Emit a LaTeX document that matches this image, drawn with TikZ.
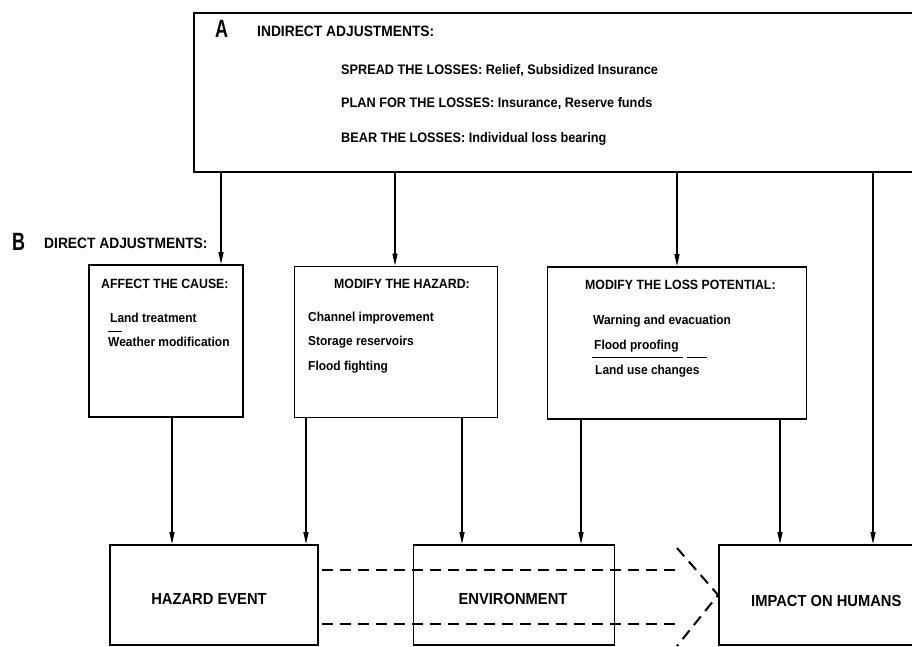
\documentclass[tikz,border=0pt]{standalone}
\usepackage{fontspec}
\setmainfont{Liberation Sans}[FakeStretch=0.92]
\newfontfamily\lettrefont{Liberation Sans}[FakeStretch=0.72]
\usetikzlibrary{arrows.meta}
\begin{document}
\begin{tikzpicture}[x=1pt,y=-1pt,
  box/.style={draw=black, line width=1.8pt, inner sep=0pt},
  arr/.style={draw=black, line width=1.4pt, -{Triangle[length=12pt,width=5pt]}},
  flow/.style={draw=black, line width=2pt, dash pattern=on 11pt off 7pt},
  head/.style={font=\bfseries\fontsize{15}{15}\selectfont, anchor=west, inner sep=0pt},
  title/.style={font=\bfseries\fontsize{13.4}{13.4}\selectfont, anchor=west, inner sep=0pt},
  item/.style={font=\bfseries\fontsize{13}{13}\selectfont, anchor=west, inner sep=0pt},
  aitem/.style={font=\bfseries\fontsize{13.8}{13.8}\selectfont, anchor=west, inner sep=0pt},
  outcome/.style={font=\bfseries\fontsize{16}{16}\selectfont, inner sep=0pt},
  letter/.style={font=\lettrefont\bfseries\fontsize{25}{25}\selectfont, anchor=west, inner sep=0pt}]
\useasboundingbox (0,0) rectangle (912,647);

% indirect adjustments
\node[box, minimum width=740pt, minimum height=159pt] (A) at (564,92.5) {};
\node[letter] (Al) at (215,29) {A};
\node[head] (At) at (257,31) {INDIRECT ADJUSTMENTS:};
\node[aitem] (i1) at (341,71) {SPREAD THE LOSSES: Relief, Subsidized Insurance};
\node[aitem] (i2) at (341,104) {PLAN FOR THE LOSSES: Insurance, Reserve funds};
\node[aitem] (i3) at (341,139) {BEAR THE LOSSES: Individual loss bearing};

% direct adjustments
\node[letter] (Bl) at (12,242) {B};
\node[head] (Bt) at (44,243) {DIRECT ADJUSTMENTS:};

\node[box, minimum width=154pt, minimum height=152pt] (cause) at (166,341) {};
\node[title] (c0) at (101,284) {AFFECT THE CAUSE:};
\node[item] (c1) at (110,318) {Land treatment};
\node[item] (c2) at (108,342) {Weather modification};
\draw[line width=1pt] (108,331) -- (122,331);

\node[box, minimum width=203pt, minimum height=151pt] (hazard) at (396,342) {};
\node[title] (h0) at (334,284) {MODIFY THE HAZARD:};
\node[item] (h1) at (308,318) {Channel improvement};
\node[item] (h2) at (308,342) {Storage reservoirs};
\node[item] (h3) at (308,367) {Flood fighting};

\node[box, minimum width=259pt, minimum height=152pt] (loss) at (677,343) {};
\node[title] (l0) at (585,285) {MODIFY THE LOSS POTENTIAL:};
\node[item] (l1) at (593,321) {Warning and evacuation};
\node[item] (l2) at (594,346) {Flood proofing};
\node[item] (l3) at (595,371) {Land use changes};
\draw[line width=1pt] (592,357) -- (683,357) (687,357) -- (707,357);

% outcome chain
\node[box, minimum width=208pt, minimum height=100pt] (event) at (214,595) {};
\node[outcome] (e0) at (209,599) {HAZARD EVENT};
\node[box, minimum width=201pt, minimum height=100pt] (env) at (514,595) {};
\node[outcome] (v0) at (513,599) {ENVIRONMENT};
\node[box, minimum width=220pt, minimum height=100pt] (impact) at (829,595) {};
\node[outcome, anchor=west] (m0) at (751,601) {IMPACT ON HUMANS};

% arrow columns
\coordinate (x1) at (221,0);
\coordinate (x2) at (395,0);
\coordinate (x3) at (677,0);
\coordinate (x4) at (873,0);
\coordinate (x5) at (172,0);
\coordinate (x6) at (306,0);
\coordinate (x7) at (462,0);
\coordinate (x8) at (581,0);
\coordinate (x9) at (780,0);

\draw[arr] (A.south -| x1) -- (cause.north -| x1);
\draw[arr] (A.south -| x2) -- (hazard.north -| x2);
\draw[arr] (A.south -| x3) -- (loss.north -| x3);
\draw[arr] (A.south -| x4) -- (impact.north -| x4);

\draw[arr] (cause.south -| x5) -- (event.north -| x5);
\draw[arr] (hazard.south -| x6) -- (event.north -| x6);
\draw[arr] (hazard.south -| x7) -- (env.north -| x7);
\draw[arr] (loss.south -| x8) -- (env.north -| x8);
\draw[arr] (loss.south -| x9) -- (impact.north -| x9);

% broad dashed arrow from the hazard event towards the impact
\coordinate (d1) at (322,570);
\coordinate (d2) at (677,570);
\coordinate (d3) at (322,624);
\coordinate (d4) at (677,624);
\coordinate (h1t) at (677,548);
\coordinate (h2b) at (677,646);
\draw[flow] (d1) -- (d2);
\draw[flow] (d3) -- (d4);
\draw[flow] (h1t) -- (impact.west) -- (h2b);
\end{tikzpicture}
\end{document}
